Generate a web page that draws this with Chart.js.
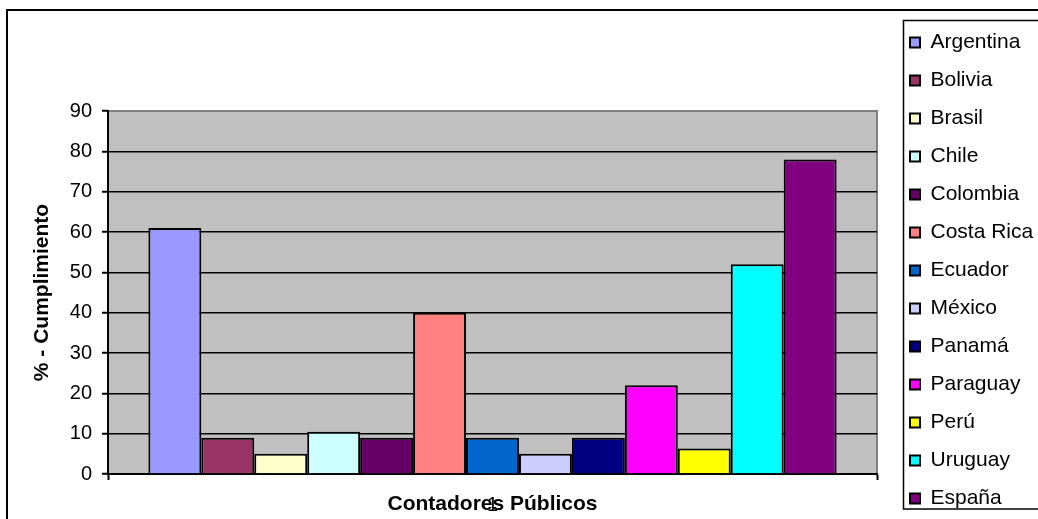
<!DOCTYPE html>
<html>
<head>
<meta charset="utf-8">
<script src="https://cdn.jsdelivr.net/npm/chart.js@4/dist/chart.umd.min.js"></script>
<style>
html, body { margin: 0; padding: 0; background: #fff; overflow: hidden; }
canvas { display: block; }
</style>
</head>
<body>
<canvas id="c" width="1038" height="519"></canvas>
<script>
// ---- data ----
const categories = ['1'];
const countries = ['Argentina', 'Bolivia', 'Brasil', 'Chile', 'Colombia', 'Costa Rica', 'Ecuador', 'México', 'Panamá', 'Paraguay', 'Perú', 'Uruguay', 'España'];
const values = [61, 9, 5, 10.5, 9, 40, 9, 5, 9, 22, 6.3, 52, 78];
const colors = ['#9999FF', '#993366', '#FFFFCC', '#CCFFFF', '#660066', '#FF8080', '#0066CC', '#CCCCFF', '#000080', '#FF00FF', '#FFFF00', '#00FFFF', '#800080'];
const yMin = 0, yMax = 90, yStep = 10;
const yTitle = '% - Cumplimiento';
const xTitle = 'Contadores Públicos';

const FONT = '"Liberation Sans", Arial, Helvetica, sans-serif';

const datasets = countries.map((name, i) => ({
  label: name,
  data: [values[i]],
  backgroundColor: colors[i],
  borderColor: '#000',
  borderWidth: 2,
  categoryPercentage: 0.895,
  barPercentage: 1.0
}));

const framePlugin = {
  id: 'frame',
  afterLayout(chart) {
    const l = chart.legend;
    if (l) {
      l.left += 16;
      l.right = l.left + 200;
      l.top += 11;
      l.bottom += 11;
    }
  },
  beforeDraw(chart) {
    const { ctx, chartArea: a } = chart;
    ctx.save();
    ctx.fillStyle = '#fff';
    ctx.fillRect(0, 0, chart.width, chart.height);
    ctx.strokeStyle = '#000';
    ctx.lineWidth = 2;
    ctx.strokeRect(7, 10, 1200, 700);
    ctx.fillStyle = '#C0C0C0';
    ctx.fillRect(a.left, a.top, a.right - a.left, a.bottom - a.top);
    ctx.strokeStyle = '#808080';
    ctx.lineWidth = 2;
    ctx.beginPath();
    ctx.moveTo(a.left, a.top);
    ctx.lineTo(a.right, a.top);
    ctx.lineTo(a.right, a.bottom);
    ctx.stroke();
    ctx.restore();
  },
  afterDraw(chart) {
    const ctx = chart.ctx;
    ctx.save();
    ctx.strokeStyle = '#000';
    ctx.lineWidth = 1.5;
    ctx.strokeRect(903.5, 20.5, 300, 488.5);
    ctx.restore();
  }
};

new Chart(document.getElementById('c'), {
  type: 'bar',
  data: { labels: categories, datasets },
  options: {
    responsive: false,
    animation: false,
    devicePixelRatio: 1,
    layout: { padding: { left: 0, right: 31, top: 0, bottom: 0 } },
    plugins: {
      tooltip: { enabled: false },
      title: {
        display: true,
        text: '',
        fullSize: false,
        font: { size: 10, lineHeight: 1 },
        padding: { top: 101, bottom: 0 }
      },
      legend: {
        position: 'right',
        maxWidth: 130,
        labels: {
          boxWidth: 10,
          boxHeight: 10,
          padding: 17,
          color: '#000',
          font: { family: FONT, size: 21 }
        }
      }
    },
    scales: {
      x: {
        afterFit(scale) { scale.height = 45; },
        grid: {
          drawOnChartArea: false,
          drawTicks: true,
          tickLength: 6,
          tickColor: '#000',
          tickWidth: 2,
          offset: true
        },
        border: { display: true, color: '#000', width: 2 },
        ticks: { color: '#000', padding: 13, font: { family: FONT, size: 20 } },
        title: {
          display: true,
          text: xTitle,
          color: '#000',
          font: { family: FONT, size: 21, weight: 'bold' },
          padding: { top: 0, bottom: 2 }
        }
      },
      y: {
        min: yMin,
        max: yMax,
        afterFit(scale) { scale.width = 108; },
        ticks: {
          stepSize: yStep,
          color: '#000',
          padding: 10,
          font: { family: FONT, size: 20 }
        },
        grid: {
          color: (c) => (c.tick && c.tick.value === yMax) ? '#808080' : '#000',
          lineWidth: 1.5,
          tickLength: 6,
          tickColor: '#000',
          tickWidth: 2
        },
        border: { display: true, color: '#000', width: 2 },
        title: {
          display: true,
          text: yTitle,
          color: '#000',
          font: { family: FONT, size: 21, weight: 'bold' },
          padding: { top: 30, bottom: 0 }
        }
      }
    }
  },
  plugins: [framePlugin]
});
</script>
</body>
</html>
